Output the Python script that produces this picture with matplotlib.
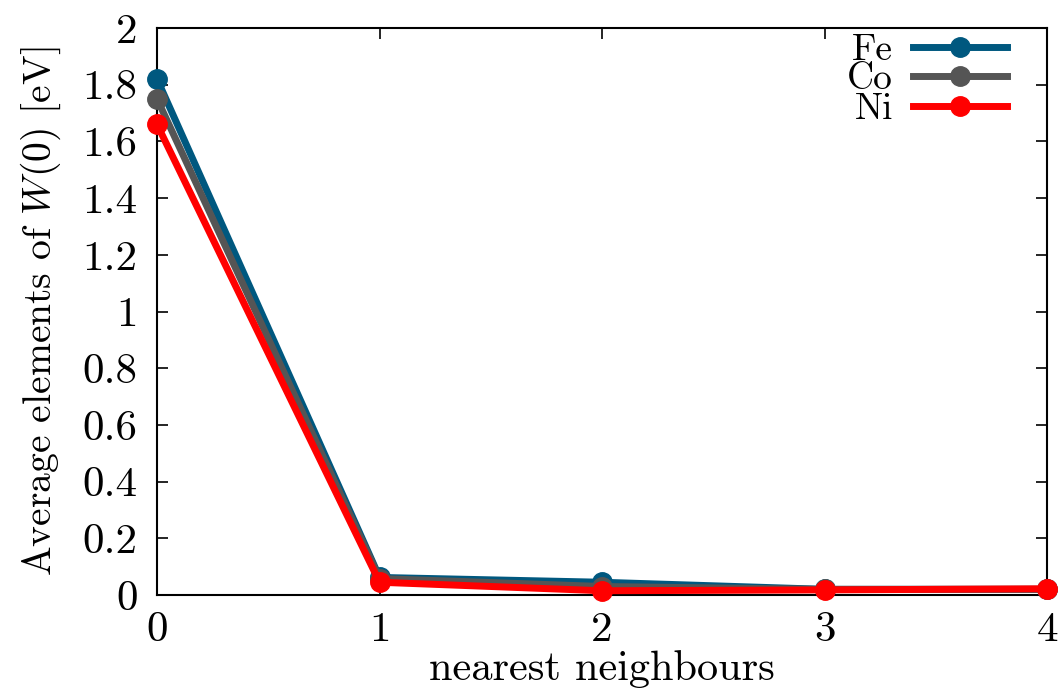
import matplotlib
matplotlib.use("Agg")
import matplotlib.pyplot as plt

plt.rcParams['font.family'] = 'cmr10'
plt.rcParams['mathtext.fontset'] = 'cm'
plt.rcParams['axes.formatter.use_mathtext'] = True

# average W(0) elements per neighbour shell
shells = [0, 1, 2, 3, 4]
fe = [1.82, 0.062, 0.045, 0.020, 0.020]
co = [1.75, 0.058, 0.030, 0.020, 0.020]
ni = [1.66, 0.045, 0.015, 0.018, 0.022]

yticks = [0, 0.2, 0.4, 0.6, 0.8, 1, 1.2, 1.4, 1.6, 1.8, 2]
ytick_labels = ['0', '0.2', '0.4', '0.6', '0.8', '1', '1.2', '1.4', '1.6', '1.8', '2']

fig = plt.figure(figsize=(10.61, 6.93), dpi=100)
ax = fig.add_axes([0.148, 0.1414, 0.839, 0.8182])

for vals, col, lab in [(fe, '#00587f', 'Fe'), (co, '#555555', 'Co'), (ni, '#ff0000', 'Ni')]:
    ax.plot(shells, vals, '-o', color=col, lw=5, ms=14, label=lab, clip_on=False, zorder=3)

ax.set_xlim(0, 4)
ax.set_ylim(0, 2)
ax.set_xticks(shells)
ax.set_xticklabels([str(s) for s in shells])
ax.set_yticks(yticks)
ax.set_yticklabels(ytick_labels)
ax.tick_params(direction='in', length=8, width=1.2, labelsize=31, top=True, right=True)
ax.tick_params(axis='y', pad=14)
ax.tick_params(axis='x', pad=12)
for sp in ax.spines.values():
    sp.set_linewidth(1.5)

ax.set_xlabel('nearest neighbours', fontsize=30.5, va='center')
ax.xaxis.set_label_coords(0.5, -0.1305)
ax.set_ylabel(r'Average elements of $W(0)$ [eV]', fontsize=28.5, labelpad=14)

leg = ax.legend(loc='upper right', fontsize=27, frameon=False, markerfirst=False,
                handlelength=2.5, labelspacing=-0.1, handletextpad=0.55,
                borderpad=0.0, borderaxespad=0.0, bbox_to_anchor=(0.955, 0.99))

fig.savefig('out.png', dpi=100)
